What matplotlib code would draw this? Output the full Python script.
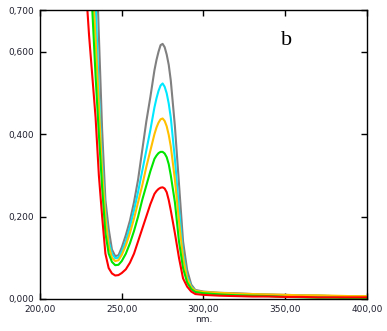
import numpy as np
import matplotlib.pyplot as plt
from matplotlib.ticker import FixedLocator, FuncFormatter

# longitudes de onda (nm) y absorbancias
nm = [225, 228, 230, 232, 234, 236, 238, 240, 242, 244, 246, 248, 250,
      252.5, 255, 257.5, 260, 262.5, 265, 267.5, 270, 271.25, 272.5,
      273.75, 275, 276.25, 277.5, 278.75, 280, 282.5, 285, 287.5, 290,
      292.5, 295, 300, 310, 320, 330, 340, 350, 360, 370, 380, 390, 400]

gris = [1.30, 1.15, 1.05, 0.98, 0.88, 0.64, 0.41, 0.24, 0.17, 0.12, 0.104,
        0.106, 0.125, 0.155, 0.19, 0.235, 0.29, 0.36, 0.43, 0.49, 0.555,
        0.58, 0.60, 0.616, 0.619, 0.611, 0.593, 0.568, 0.53, 0.42, 0.28,
        0.14, 0.07, 0.035, 0.022, 0.018, 0.015, 0.014, 0.012, 0.011,
        0.010, 0.009, 0.008, 0.007, 0.006, 0.006]
cian = [1.25, 1.08, 0.97, 0.84, 0.72, 0.50, 0.33, 0.21, 0.14, 0.11, 0.099,
        0.10, 0.115, 0.14, 0.175, 0.215, 0.26, 0.31, 0.36, 0.41, 0.465,
        0.487, 0.505, 0.518, 0.523, 0.515, 0.499, 0.474, 0.44, 0.34, 0.22,
        0.11, 0.055, 0.03, 0.02, 0.016, 0.013, 0.012, 0.011, 0.010, 0.009,
        0.008, 0.008, 0.007, 0.007, 0.006]
naranja = [1.22, 1.05, 0.93, 0.78, 0.63, 0.47, 0.31, 0.20, 0.13, 0.10,
           0.092, 0.094, 0.107, 0.13, 0.16, 0.195, 0.235, 0.275, 0.32,
           0.36, 0.40, 0.416, 0.428, 0.436, 0.438, 0.432, 0.419, 0.398,
           0.37, 0.29, 0.19, 0.10, 0.05, 0.028, 0.02, 0.017, 0.015, 0.013,
           0.012, 0.011, 0.010, 0.009, 0.009, 0.008, 0.007, 0.007]
verde = [1.15, 0.95, 0.83, 0.70, 0.54, 0.40, 0.27, 0.16, 0.11, 0.09,
         0.082, 0.083, 0.092, 0.11, 0.135, 0.165, 0.20, 0.24, 0.275, 0.31,
         0.34, 0.348, 0.354, 0.357, 0.357, 0.353, 0.344, 0.327, 0.30,
         0.235, 0.14, 0.075, 0.04, 0.024, 0.017, 0.014, 0.011, 0.009,
         0.008, 0.007, 0.005, 0.004, 0.003, 0.003, 0.002, 0.002]
rojo = [1.00, 0.76, 0.64, 0.54, 0.44, 0.30, 0.20, 0.11, 0.075, 0.062,
        0.057, 0.058, 0.063, 0.072, 0.088, 0.11, 0.14, 0.17, 0.20, 0.23,
        0.255, 0.262, 0.267, 0.270, 0.271, 0.268, 0.259, 0.24, 0.215,
        0.16, 0.10, 0.05, 0.03, 0.018, 0.012, 0.010, 0.008, 0.007, 0.006,
        0.006, 0.005, 0.005, 0.004, 0.004, 0.004, 0.004]

series = [(gris, '#808080'), (cian, '#00e8ff'), (naranja, '#ffc000'),
          (verde, '#00e600'), (rojo, '#ff0000')]

xticks = [200, 250, 300, 350, 400]
yticks = [0.0, 0.2, 0.4, 0.6, 0.7]

fig = plt.figure(figsize=(3.87, 3.31), dpi=100)
ax = fig.add_axes([0.1034, 0.0967, 0.8448, 0.8716])

for vals, col in series:
    ax.plot(nm, vals, color=col, lw=1.5, solid_joinstyle='round')

ax.set_xlim(200, 400)
ax.set_ylim(0, 0.7)
ax.xaxis.set_major_locator(FixedLocator(xticks))
ax.yaxis.set_major_locator(FixedLocator(yticks))
ax.xaxis.set_major_formatter(FuncFormatter(lambda v, p: f'{v:.2f}'.replace('.', ',')))
ax.yaxis.set_major_formatter(FuncFormatter(lambda v, p: f'{v:.3f}'.replace('.', ',')))
ax.tick_params(direction='in', length=4, width=1, top=True, right=True,
               labelsize=6.5, labelcolor='#202030', pad=4)
for s in ax.spines.values():
    s.set_linewidth(1)

ax.set_xlabel('nm.', fontsize=6.5, color='#202030', labelpad=1)
ax.text(351, 0.627, 'b', family='Liberation Serif', fontsize=16,
        ha='center', va='center')

fig.savefig('out.png', dpi=100)
